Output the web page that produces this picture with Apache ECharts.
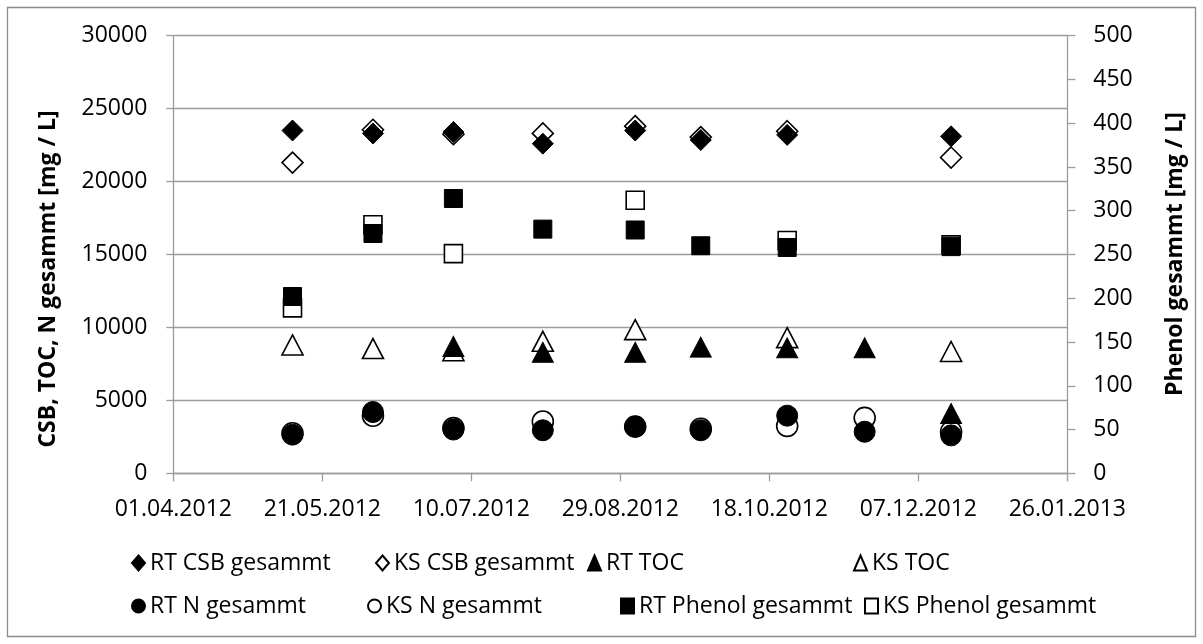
<!DOCTYPE html>
<html>
<head>
<meta charset="utf-8">
<script src="https://cdn.jsdelivr.net/npm/echarts@6/dist/echarts.min.js"></script>
<style>
  html, body { margin: 0; padding: 0; background: #ffffff; }
  #chart { width: 1203px; height: 644px; }
</style>
</head>
<body>
<div id="chart"></div>
<script>
// Sampling dates
const sampleDates = ['2012-05-11', '2012-06-07', '2012-07-04', '2012-08-03', '2012-09-03',
                     '2012-09-25', '2012-10-24', '2012-11-19', '2012-12-18'];

// Concentrations in mg/L; null = not measured on that date
const rtCsb    = [23500, 23300, 23400, 22600, 23500, 22850, 23200, null, 23100];
const ksCsb    = [21300, 23550, 23250, 23300, 23800, 23050, 23450, null, 21650];
const rtToc    = [null,  null,  8700,  8300,  8300,  8650,  8600,  8600, 4100];
const ksToc    = [8800,  8550,  8400,  9050,  9850,  null,  9300,  null, 8350];
const rtN      = [2650,  4200,  3000,  2950,  3200,  2950,  3950,  2850, 2600];
const ksN      = [2750,  3950,  3100,  3550,  3200,  3050,  3250,  3800, 2850];
const rtPhenol = [202,   274,   314,   279,   278,   260,   258,   null, 259];
const ksPhenol = [189,   284,   251,   null,  312,   null,  266,   null, 261];

// Axis ranges
const axisStartDate = '2012-04-01';
const axisSpanDays = 300;
const axisStepDays = 50;
const leftMax = 30000, leftStep = 5000;
const rightMax = 500, rightStep = 50;

const DAY = 86400000;
function utc(s) {
  const p = s.split('-').map(Number);
  return Date.UTC(p[0], p[1] - 1, p[2]);
}
const base = utc(axisStartDate);
function dayOffset(s) { return Math.round((utc(s) - base) / DAY); }
function fmtDate(v) {
  const d = new Date(base + v * DAY);
  const dd = String(d.getUTCDate()).padStart(2, '0');
  const mm = String(d.getUTCMonth() + 1).padStart(2, '0');
  return dd + '.' + mm + '.' + d.getUTCFullYear();
}
function pairs(values) {
  const out = [];
  values.forEach((v, i) => { if (v !== null) out.push([dayOffset(sampleDates[i]), v]); });
  return out;
}

const FONT = "'Open Sans', sans-serif";
const GRID_COLOR = '#9c9c9c';
const filled = { color: '#000000', borderColor: '#000000', borderWidth: 1, opacity: 1 };
const hollow = { color: '#ffffff', borderColor: '#000000', borderWidth: 1.6, opacity: 1 };

function series(name, values, symbol, size, style, yIdx, z) {
  return {
    name: name, type: 'scatter', data: pairs(values), yAxisIndex: yIdx,
    symbol: symbol, symbolSize: size, itemStyle: style, z: z,
    emphasis: { disabled: true }
  };
}

const seriesList = [
  series('RT CSB gesammt', rtCsb, 'diamond', 21, filled, 0, 4),
  series('KS CSB gesammt', ksCsb, 'diamond', 21, hollow, 0, 3),
  series('RT TOC', rtToc, 'triangle', [21, 20], filled, 0, 4),
  series('KS TOC', ksToc, 'triangle', [21, 20], hollow, 0, 3),
  series('RT N gesammt', rtN, 'circle', 21, filled, 0, 4),
  series('KS N gesammt', ksN, 'circle', 21, hollow, 0, 3),
  series('RT Phenol gesammt', rtPhenol, 'rect', 18, filled, 1, 4),
  series('KS Phenol gesammt', ksPhenol, 'rect', 18, hollow, 1, 3)
];

// Legend: two rows, each entry placed by where its text starts
const legendRows = [
  { top: 548, items: [['RT CSB gesammt', 149], ['KS CSB gesammt', 393], ['RT TOC', 605], ['KS TOC', 871]] },
  { top: 591, items: [['RT N gesammt', 149], ['KS N gesammt', 385], ['RT Phenol gesammt', 638], ['KS Phenol gesammt', 882]] }
];
const ICON_W = 13, ICON_H = 15;
const legends = [];
legendRows.forEach(row => row.items.forEach(it => {
  legends.push({
    data: [it[0]], left: it[1] - ICON_W - 5, top: row.top, padding: 0,
    itemWidth: ICON_W, itemHeight: ICON_H, selectedMode: false,
    textStyle: { fontFamily: FONT, fontSize: 23, color: '#000000', lineHeight: 30 }
  });
}));

const axisLineStyle = { color: GRID_COLOR, width: 1.3 };

const option = {
  animation: false,
  backgroundColor: '#ffffff',
  textStyle: { fontFamily: FONT },
  grid: { left: 173.3, right: 1203 - 1067.3, top: 35.7, bottom: 644 - 473.3, containLabel: false },
  legend: legends,
  xAxis: {
    type: 'value', min: 0, max: axisSpanDays, interval: axisStepDays,
    axisLine: { show: true, lineStyle: axisLineStyle },
    axisTick: { show: true, inside: false, length: 8, lineStyle: axisLineStyle },
    splitLine: { show: false },
    axisLabel: { formatter: fmtDate, margin: 25, fontFamily: FONT, fontSize: 23, color: '#000000' }
  },
  yAxis: [
    {
      type: 'value', position: 'left', min: 0, max: leftMax, interval: leftStep,
      axisLine: { show: true, lineStyle: axisLineStyle },
      axisTick: { show: true, inside: false, length: 7, lineStyle: axisLineStyle },
      splitLine: { show: true, lineStyle: axisLineStyle },
      axisLabel: { formatter: v => String(v), margin: 26, fontFamily: FONT, fontSize: 23, color: '#000000' }
    },
    {
      type: 'value', position: 'right', min: 0, max: rightMax, interval: rightStep,
      axisLine: { show: true, lineStyle: axisLineStyle },
      axisTick: { show: true, inside: false, length: 8, lineStyle: axisLineStyle },
      splitLine: { show: false },
      axisLabel: { formatter: v => String(v), margin: 26, fontFamily: FONT, fontSize: 23, color: '#000000' }
    }
  ],
  graphic: [
    {
      type: 'rect', silent: true, z: -10,
      shape: { x: 7.5, y: 7.5, width: 1188, height: 629 },
      style: { fill: 'none', stroke: '#8c8c8c', lineWidth: 1.3 }
    },
    {
      type: 'text', silent: true, x: 48, y: 279, rotation: Math.PI / 2,
      style: { text: 'CSB, TOC, N gesammt [mg / L]', fontFamily: FONT, fontSize: 23, fontWeight: 'bold',
               fill: '#000000', align: 'center', verticalAlign: 'middle' }
    },
    {
      type: 'text', silent: true, x: 1175, y: 254, rotation: Math.PI / 2,
      style: { text: 'Phenol gesammt [mg / L]', fontFamily: FONT, fontSize: 23, fontWeight: 'bold',
               fill: '#000000', align: 'center', verticalAlign: 'middle' }
    }
  ],
  series: seriesList
};

const chart = echarts.init(document.getElementById('chart'), null, { renderer: 'canvas' });
chart.setOption(option);
</script>
</body>
</html>
